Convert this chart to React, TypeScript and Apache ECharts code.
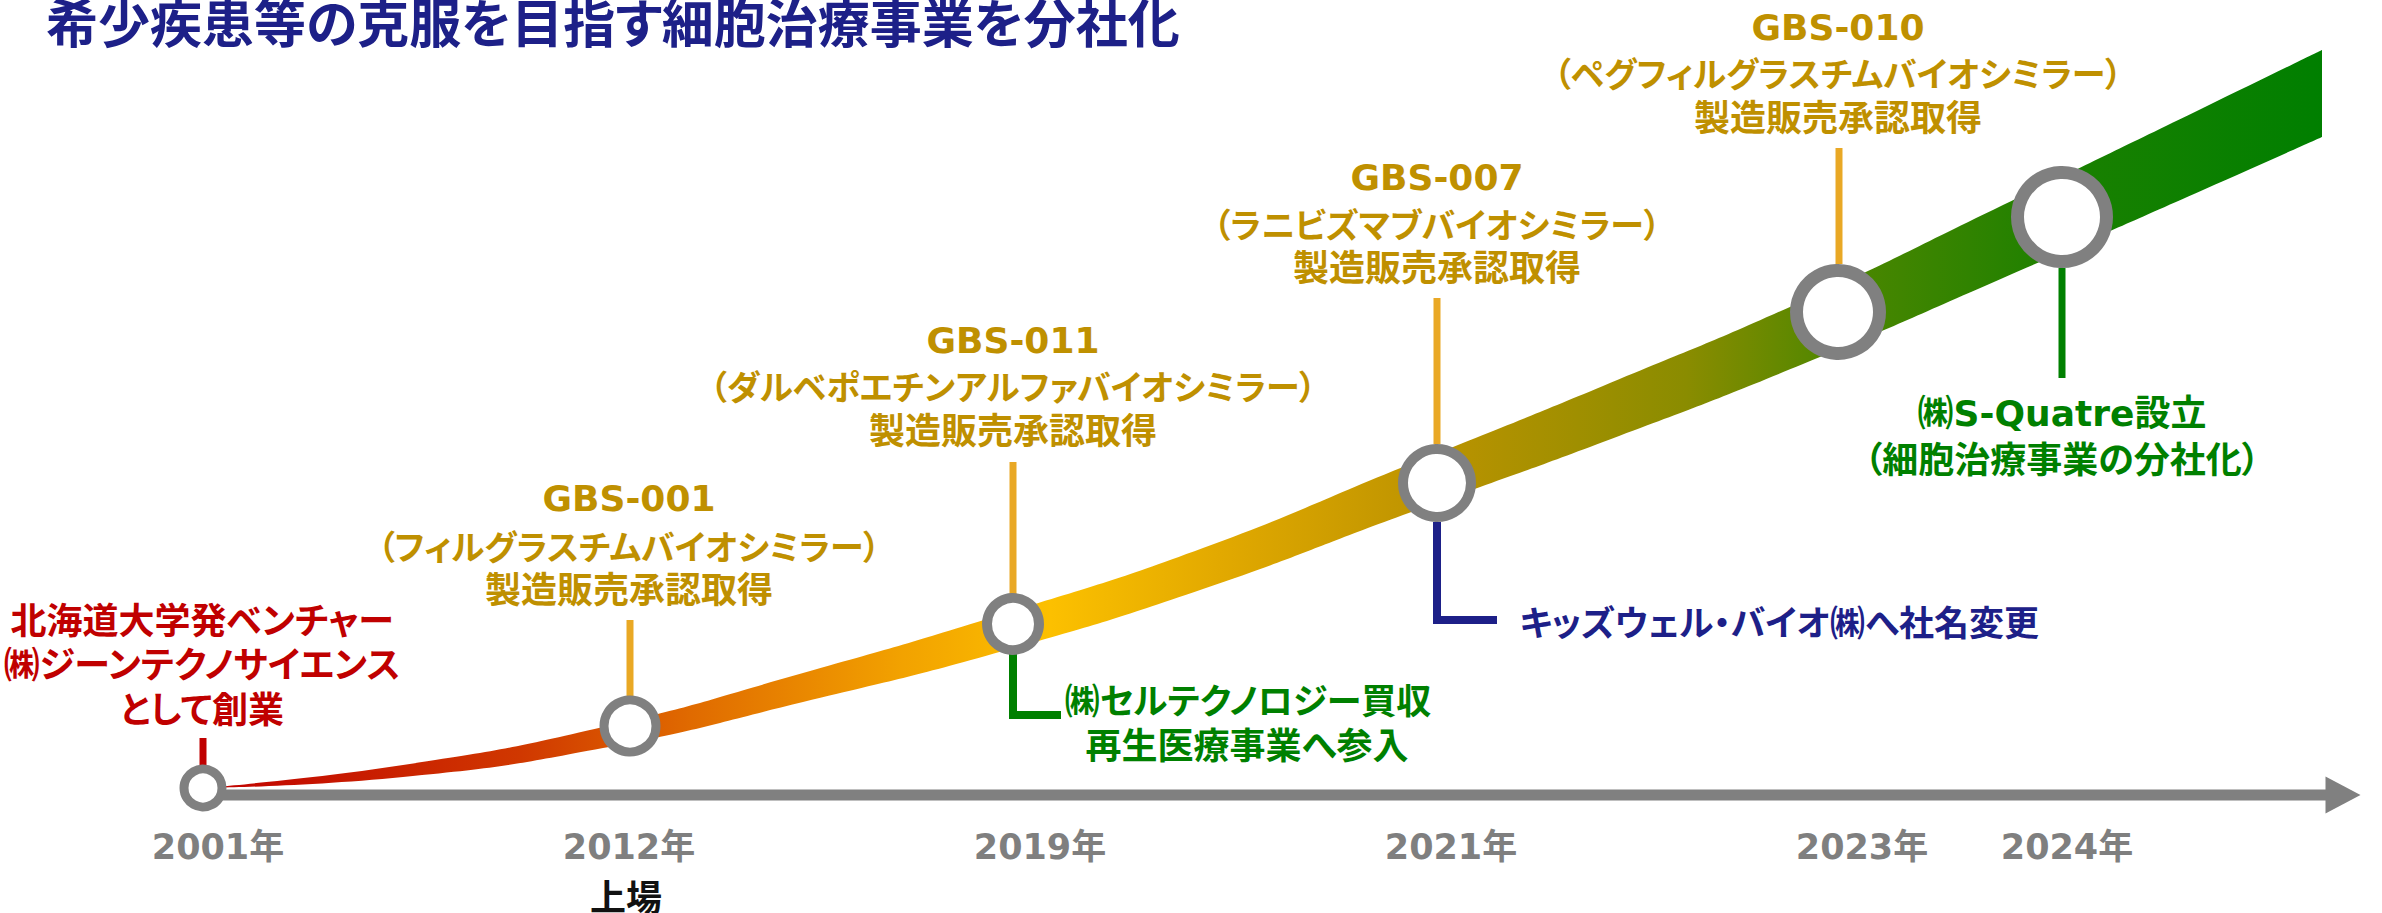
import React, { useEffect, useRef } from 'react';
import * as echarts from 'echarts';

// ---------------- data ----------------
const TITLE = '希少疾患等の克服を目指す細胞治療事業を分社化';

const years = ['2001年', '2012年', '2019年', '2021年', '2023年', '2024年'];
// position along the timeline and growth level of each milestone ring
const milestonePos = [203, 630, 1013, 1437, 1838, 2062];
const milestoneLevel = [7, 69, 171, 312, 483, 578];
const ringSize = [38, 52, 52, 68, 83, 89];
const ringWidth = [9, 9, 10, 10, 13, 13];
const yearLabelPos = [218, 629, 1040, 1451, 1862, 2067];

// growth ribbon (lower / upper edge levels)
const ribbonPos = [203, 403, 603, 803, 1003, 1203, 1403, 1603, 1803, 2003, 2203, 2322];
const ribbonLow = [7, 18, 47, 93, 144, 206, 280, 353, 431, 517, 605, 658];
const ribbonHigh = [7, 30, 68, 122, 181, 247, 328, 409, 494, 590, 687, 745];

const timelineStart = 203;
const timelineEnd = 2327;
const arrowPos = 2343;

// ---------------- styles ----------------
const RED = '#c00000';
const GOLD = '#bf9000';
const GOLD_LINE = '#e9a825';
const GREEN = '#008000';
const BLUE = '#1d2088';
const GRAY = '#808080';
const YEAR_GRAY = '#7f7f7f';
const FONT_MIX = "'DejaVu Sans', 'Noto Sans CJK JP', sans-serif";
const FONT_JP = "'Noto Sans CJK JP', sans-serif";

const leaders = [
  { color: RED, width: 7, pts: [[203, 57], [203, 30]] },
  { color: GOLD_LINE, width: 7, pts: [[630, 175], [630, 99]] },
  { color: GOLD_LINE, width: 7, pts: [[1013, 333], [1013, 201]] },
  { color: GREEN, width: 8, pts: [[1013, 141], [1013, 80], [1061, 80]] },
  { color: GOLD_LINE, width: 7, pts: [[1437, 497], [1437, 351]] },
  { color: BLUE, width: 8, pts: [[1437, 273], [1437, 175], [1497, 175]] },
  { color: GOLD_LINE, width: 7, pts: [[1839, 647], [1839, 531]] },
  { color: GREEN, width: 7, pts: [[2062, 527], [2062, 417]] },
];

type Note = { x: number; y: number; text: string; color: string; size: number; font?: string; left?: boolean };

const notes: Note[] = [
  { x: 202, y: 177, text: '北海道大学発ベンチャー', color: RED, size: 36 },
  { x: 202, y: 133, text: '㈱ジーンテクノサイエンス', color: RED, size: 36 },
  { x: 202, y: 88, text: 'として創業', color: RED, size: 36 },

  { x: 629, y: 297, text: 'GBS-001', color: GOLD, size: 36, font: FONT_MIX },
  { x: 629, y: 250, text: '（フィルグラスチムバイオシミラー）', color: GOLD, size: 34 },
  { x: 629, y: 208, text: '製造販売承認取得', color: GOLD, size: 36 },

  { x: 1013, y: 455, text: 'GBS-011', color: GOLD, size: 36, font: FONT_MIX },
  { x: 1013, y: 410, text: '（ダルベポエチンアルファバイオシミラー）', color: GOLD, size: 34 },
  { x: 1013, y: 367, text: '製造販売承認取得', color: GOLD, size: 36 },

  { x: 1437, y: 618, text: 'GBS-007', color: GOLD, size: 36, font: FONT_MIX },
  { x: 1437, y: 572, text: '（ラニビズマブバイオシミラー）', color: GOLD, size: 34 },
  { x: 1437, y: 530, text: '製造販売承認取得', color: GOLD, size: 36 },

  { x: 1838, y: 768, text: 'GBS-010', color: GOLD, size: 36, font: FONT_MIX },
  { x: 1838, y: 723, text: '（ペグフィルグラスチムバイオシミラー）', color: GOLD, size: 34 },
  { x: 1838, y: 680, text: '製造販売承認取得', color: GOLD, size: 36 },

  { x: 1248, y: 97, text: '㈱セルテクノロジー買収', color: GREEN, size: 35 },
  { x: 1247, y: 52, text: '再生医療事業へ参入', color: GREEN, size: 36 },

  { x: 1519, y: 175, text: 'キッズウェル・バイオ㈱へ社名変更', color: BLUE, size: 35, left: true },

  { x: 2062, y: 382, text: '㈱S-Quatre設立', color: GREEN, size: 36, font: FONT_MIX },
  { x: 2062, y: 338, text: '（細胞治療事業の分社化）', color: GREEN, size: 36 },

  { x: 626, y: -100, text: '上場', color: '#111111', size: 36 },
];

function buildOption(): any {
  const ribbonGradient = new echarts.graphic.LinearGradient(0, 0, 1, 0, [
    { offset: 0, color: '#c00000' },
    { offset: 0.15, color: '#d03800' },
    { offset: 0.23, color: '#e06a00' },
    { offset: 0.33, color: '#f2a200' },
    { offset: 0.4, color: '#fcc000' },
    { offset: 0.48, color: '#e2a900' },
    { offset: 0.58, color: '#bc9300' },
    { offset: 0.7, color: '#8a8c00' },
    { offset: 0.77, color: '#4f8700' },
    { offset: 0.88, color: '#1a8000' },
    { offset: 1, color: '#007f00' },
  ]);

  const series: any[] = [];

  // ribbon: upper edge filled with the gradient, lower edge masked in white
  series.push({
    type: 'line',
    data: ribbonPos.map((p, i) => [p, ribbonHigh[i]]),
    smooth: 0.5,
    showSymbol: false,
    symbol: 'none',
    lineStyle: { width: 0, opacity: 0 },
    areaStyle: { color: ribbonGradient, opacity: 1, origin: 'start' },
    silent: true,
    z: 1,
  });
  series.push({
    type: 'line',
    data: ribbonPos.map((p, i) => [p, ribbonLow[i]]),
    smooth: 0.5,
    showSymbol: false,
    symbol: 'none',
    lineStyle: { width: 0, opacity: 0 },
    areaStyle: { color: '#ffffff', opacity: 1, origin: 'start' },
    silent: true,
    z: 1,
  });

  // timeline axis
  series.push({
    type: 'line',
    data: [[timelineStart, 0], [timelineEnd, 0]],
    symbol: 'none',
    lineStyle: { color: GRAY, width: 11, cap: 'butt' },
    silent: true,
    z: 2,
  });
  series.push({
    type: 'scatter',
    data: [[arrowPos, 0]],
    symbol: 'triangle',
    symbolSize: [37, 35],
    symbolRotate: -90,
    itemStyle: { color: GRAY, opacity: 1 },
    silent: true,
    z: 2,
  });

  // leader lines
  leaders.forEach((l) => {
    series.push({
      type: 'line',
      data: l.pts,
      symbol: 'none',
      lineStyle: { color: l.color, width: l.width, cap: 'butt', join: 'miter' },
      silent: true,
      z: 3,
    });
  });

  // milestone rings
  series.push({
    type: 'scatter',
    data: milestonePos.map((p, i) => ({
      value: [p, milestoneLevel[i]],
      symbolSize: ringSize[i],
      itemStyle: { color: '#ffffff', borderColor: GRAY, borderWidth: ringWidth[i], opacity: 1 },
    })),
    symbol: 'circle',
    silent: true,
    z: 4,
  });

  // year labels
  series.push({
    type: 'scatter',
    data: years.map((y, i) => ({
      value: [yearLabelPos[i], -52],
      label: { formatter: y },
    })),
    symbolSize: 1,
    itemStyle: { color: 'rgba(0,0,0,0)', opacity: 1 },
    label: {
      show: true,
      position: 'inside',
      color: YEAR_GRAY,
      fontSize: 35,
      lineHeight: 35,
      fontWeight: 'bold',
      fontFamily: FONT_MIX,
    },
    silent: true,
    z: 5,
  });

  // annotation texts
  series.push({
    type: 'scatter',
    data: notes.map((n) => ({
      value: [n.x, n.y],
      label: {
        formatter: n.text,
        color: n.color,
        fontSize: n.size,
        lineHeight: n.size,
        fontFamily: n.font || FONT_JP,
        position: n.left ? 'right' : 'inside',
        distance: 0,
      },
    })),
    symbolSize: 1,
    itemStyle: { color: 'rgba(0,0,0,0)', opacity: 1 },
    label: { show: true, fontWeight: 'bold' },
    silent: true,
    z: 5,
  });

  return {
    animation: false,
    backgroundColor: '#ffffff',
    title: {
      text: TITLE,
      left: 46,
      top: -3,
      padding: 0,
      textStyle: {
        color: BLUE,
        fontSize: 52,
        lineHeight: 46,
        fontWeight: 'bold',
        fontFamily: FONT_JP,
      },
    },
    grid: { left: 0, right: 0, top: 0, bottom: 0, containLabel: false },
    xAxis: { type: 'value', min: 0, max: 2382, show: false },
    yAxis: { type: 'value', min: -118, max: 795, show: false },
    series,
  };
}

export default function App() {
  const ref = useRef<HTMLDivElement>(null);
  useEffect(() => {
    if (!ref.current) return;
    const chart = echarts.init(ref.current, null, { renderer: 'svg' });
    chart.setOption(buildOption());
    return () => chart.dispose();
  }, []);
  return (
    <>
      <style>{'#chart text { font-feature-settings: "palt" 1 !important; }'}</style>
      <div
        id="chart"
        ref={ref}
        style={{ position: 'fixed', left: 0, top: 0, width: 2382, height: 913, background: '#ffffff' }}
      />
    </>
  );
}
